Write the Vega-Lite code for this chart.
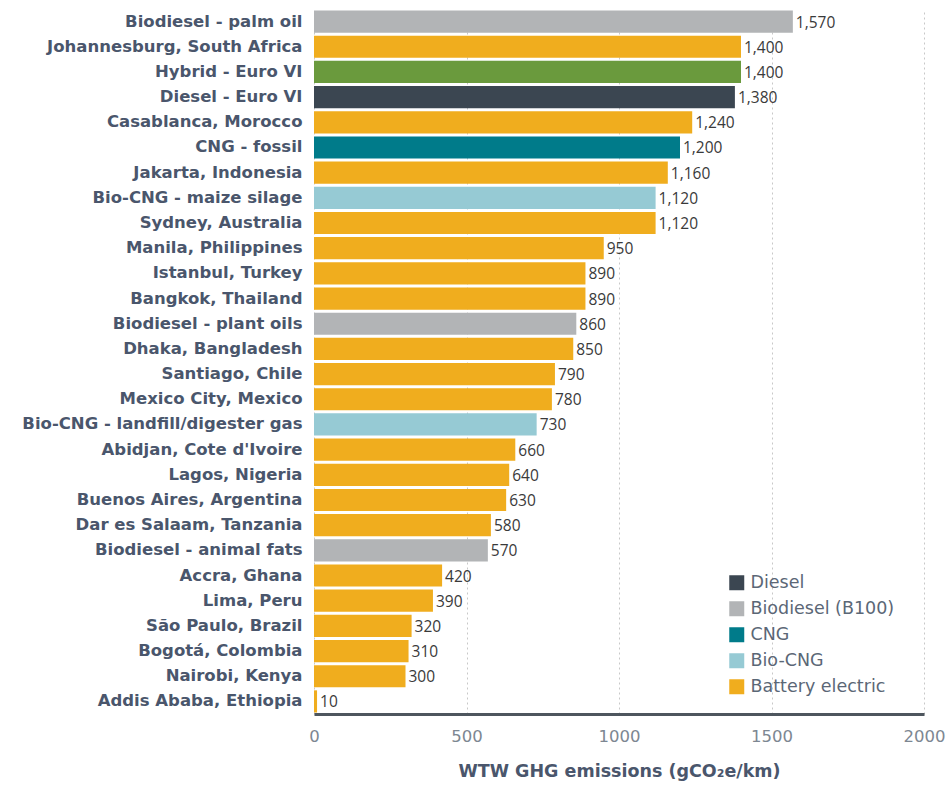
{
  "$schema": "https://vega.github.io/schema/vega-lite/v6.json",
  "autosize": {"type": "none"},
  "padding": {"left": 314, "top": 9, "right": 26, "bottom": 71},
  "width": 610,
  "height": 705,
  "background": "white",
  "config": {
    "view": {"stroke": null},
    "font": "DejaVu Sans"
  },
  "data": {
    "values": [
      {"name": "Biodiesel - palm oil", "value": 1570, "type": "Biodiesel (B100)"},
      {"name": "Johannesburg, South Africa", "value": 1400, "type": "Battery electric"},
      {"name": "Hybrid - Euro VI", "value": 1400, "type": "Hybrid"},
      {"name": "Diesel - Euro VI", "value": 1380, "type": "Diesel"},
      {"name": "Casablanca, Morocco", "value": 1240, "type": "Battery electric"},
      {"name": "CNG - fossil", "value": 1200, "type": "CNG"},
      {"name": "Jakarta, Indonesia", "value": 1160, "type": "Battery electric"},
      {"name": "Bio-CNG - maize silage", "value": 1120, "type": "Bio-CNG"},
      {"name": "Sydney, Australia", "value": 1120, "type": "Battery electric"},
      {"name": "Manila, Philippines", "value": 950, "type": "Battery electric"},
      {"name": "Istanbul, Turkey", "value": 890, "type": "Battery electric"},
      {"name": "Bangkok, Thailand", "value": 890, "type": "Battery electric"},
      {"name": "Biodiesel - plant oils", "value": 860, "type": "Biodiesel (B100)"},
      {"name": "Dhaka, Bangladesh", "value": 850, "type": "Battery electric"},
      {"name": "Santiago, Chile", "value": 790, "type": "Battery electric"},
      {"name": "Mexico City, Mexico", "value": 780, "type": "Battery electric"},
      {"name": "Bio-CNG - landfill/digester gas", "value": 730, "type": "Bio-CNG"},
      {"name": "Abidjan, Cote d'Ivoire", "value": 660, "type": "Battery electric"},
      {"name": "Lagos, Nigeria", "value": 640, "type": "Battery electric"},
      {"name": "Buenos Aires, Argentina", "value": 630, "type": "Battery electric"},
      {"name": "Dar es Salaam, Tanzania", "value": 580, "type": "Battery electric"},
      {"name": "Biodiesel - animal fats", "value": 570, "type": "Biodiesel (B100)"},
      {"name": "Accra, Ghana", "value": 420, "type": "Battery electric"},
      {"name": "Lima, Peru", "value": 390, "type": "Battery electric"},
      {"name": "São Paulo, Brazil", "value": 320, "type": "Battery electric"},
      {"name": "Bogotá, Colombia", "value": 310, "type": "Battery electric"},
      {"name": "Nairobi, Kenya", "value": 300, "type": "Battery electric"},
      {"name": "Addis Ababa, Ethiopia", "value": 10, "type": "Battery electric"}
    ]
  },
  "encoding": {
    "y": {
      "field": "name",
      "type": "nominal",
      "sort": null,
      "scale": {"paddingInner": 0.12, "paddingOuter": 0.06},
      "axis": {
        "title": null,
        "domain": false,
        "ticks": false,
        "labelPadding": 12,
        "labelLimit": 400,
        "labelFontSize": 16.5,
        "labelFontWeight": "bold",
        "labelFont": "DejaVu Sans",
        "labelColor": "#4a566c"
      }
    },
    "x": {
      "field": "value",
      "type": "quantitative",
      "scale": {"domain": [0, 2000], "nice": false},
      "axis": {
        "values": [0, 500, 1000, 1500, 2000],
        "format": "d",
        "title": "WTW GHG emissions (gCO₂e/km)",
        "titleFont": "DejaVu Sans",
        "titleFontSize": 17.5,
        "titleFontWeight": "bold",
        "titleColor": "#4a566c",
        "titlePadding": 18,
        "labelFont": "DejaVu Sans",
        "labelFontSize": 16.5,
        "labelColor": "#7d8792",
        "labelPadding": 14,
        "labelFlush": false,
        "ticks": false,
        "domainColor": "#4e565e",
        "domainWidth": 3,
        "grid": true,
        "gridColor": "#c8c8c8",
        "gridDash": [2, 3],
        "gridWidth": 1
      }
    }
  },
  "layer": [
    {
      "mark": {"type": "bar"},
      "encoding": {
        "color": {
          "field": "type",
          "type": "nominal",
          "scale": {
            "domain": ["Diesel", "Biodiesel (B100)", "CNG", "Bio-CNG", "Battery electric", "Hybrid"],
            "range": ["#3b4651", "#b2b4b6", "#007b8a", "#96cad4", "#f0ad1e", "#6a9a3d"]
          },
          "legend": {
            "title": null,
            "values": ["Diesel", "Biodiesel (B100)", "CNG", "Bio-CNG", "Battery electric"],
            "orient": "none",
            "legendX": 414,
            "legendY": 565,
            "symbolType": "square",
            "symbolSize": 225,
            "symbolStrokeWidth": 0,
            "symbolOpacity": 1,
            "labelFont": "DejaVu Sans",
            "labelFontSize": 17.5,
            "labelColor": "#5b6776",
            "labelOffset": 5,
            "rowPadding": 7
          }
        }
      }
    },
    {
      "mark": {"type": "text", "align": "left", "baseline": "middle", "dx": 3, "dy": 1, "font": "Open Sans", "fontSize": 15.5, "fontWeight": 500, "color": "#3a3a3a"},
      "encoding": {
        "text": {"field": "value", "type": "quantitative", "format": ","}
      }
    }
  ]
}
